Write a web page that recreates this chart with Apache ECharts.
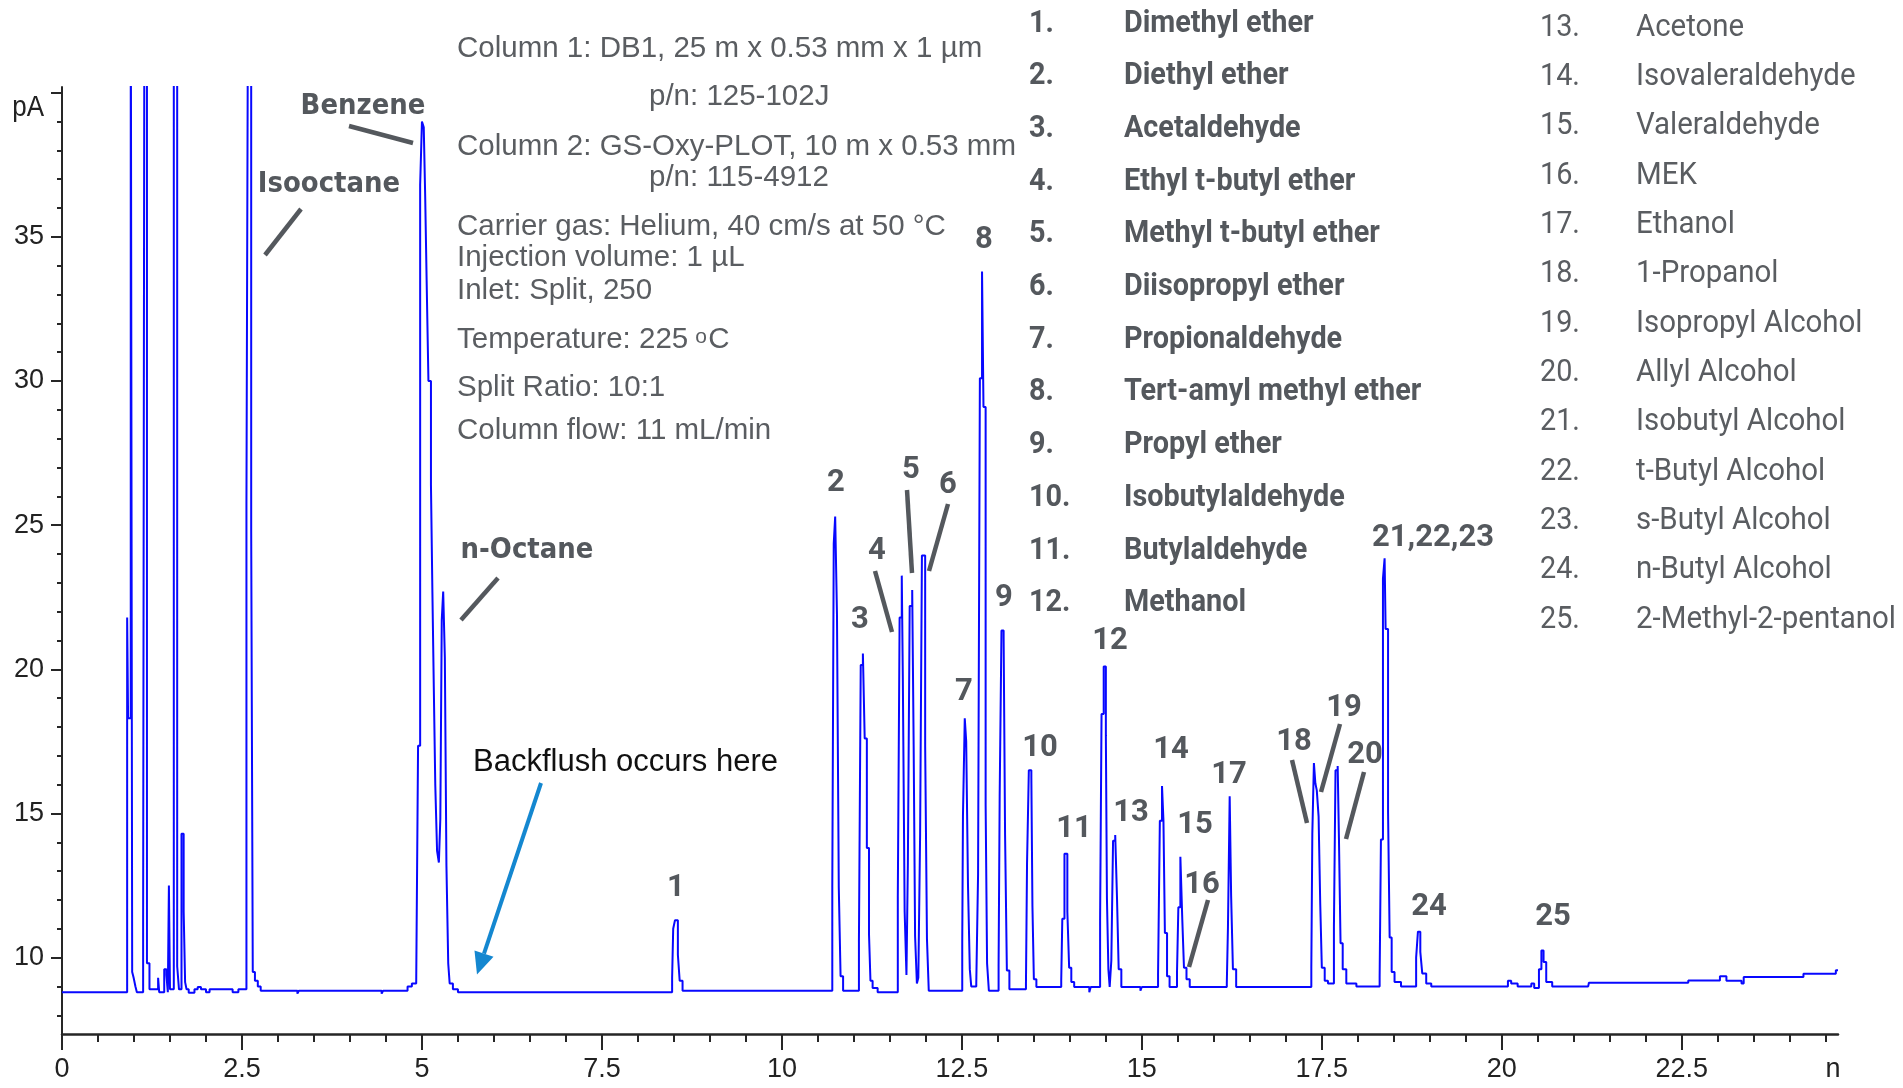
<!DOCTYPE html>
<html>
<head>
<meta charset="utf-8">
<title>Oxygenates on GS-Oxy-PLOT</title>
<script src="https://cdn.jsdelivr.net/npm/echarts@6/dist/echarts.min.js"></script>
<style>
  html, body { margin: 0; padding: 0; background: #fff; }
  #chart { width: 1903px; height: 1088px; }
</style>
</head>
<body>
<div id="chart"></div>
<script>
// ============ 数据 (min, pA) ============
// 45 = 超出量程 (被坐标轴裁掉)
const lightEndsTrace = [
  [0, 8.8], [0.905, 21.8], [0.918, 18.3], [0.955, 45], [0.975, 9.5], [0.995, 9.3], [1.02, 9.0], [1.04, 8.8],
  [1.127, 11.5], [1.145, 45], [1.18, 9.8], [1.215, 8.9], [1.335, 9.3], [1.35, 8.8], [1.42, 9.6], [1.45, 9.4],
  [1.47, 8.8], [1.485, 12.5], [1.5, 8.9], [1.553, 45], [1.6, 9.7], [1.625, 8.9], [1.66, 14.3], [1.69, 11.6],
  [1.71, 9.15], [1.73, 8.9], [1.76, 8.78], [1.84, 8.9], [1.885, 8.98], [1.93, 8.9], [2.0, 8.8], [2.05, 8.9],
  [2.37, 8.8], [2.45, 8.9], [2.562, 25.8], [2.585, 45], [2.628, 24.8], [2.65, 9.5], [2.68, 9.2], [2.72, 9.0],
  [2.76, 8.85], [3.27, 8.75], [3.29, 8.85], [4.44, 8.75], [4.46, 8.85]
]
const benzeneTrace = [
  [4.8, 9.0], [4.86, 9.1], [4.92, 9.05], [4.946, 17.35], [4.975, 36.8], [5.0, 39.0], [5.025, 38.8],
  [5.045, 36.4], [5.065, 33.5], [5.09, 30.0], [5.125, 26.4], [5.145, 22.7], [5.165, 19.3], [5.185, 16.0],
  [5.21, 13.7], [5.235, 13.3], [5.255, 14.8], [5.275, 21.7], [5.295, 22.7], [5.318, 20.4], [5.34, 13.2],
  [5.365, 9.8], [5.385, 9.1], [5.43, 8.9], [5.5, 8.8]
]
const dimethylEtherTrace = [
  [8.475, 9.3], [8.49, 11.0], [8.515, 11.3], [8.555, 10.1], [8.58, 9.2], [8.62, 8.85]
]
const ethersTrace = [
  [10.7, 12.45], [10.72, 24.35], [10.74, 25.3], [10.765, 21.9], [10.79, 12.45], [10.815, 9.35], [10.85, 8.85],
  [11.07, 10.55], [11.095, 20.15], [11.125, 20.55], [11.15, 17.6], [11.18, 13.8], [11.21, 10.8], [11.23, 9.2],
  [11.26, 8.95], [11.33, 8.8], [11.61, 12.1], [11.635, 21.8], [11.665, 23.25], [11.68, 19.65], [11.705, 11.6],
  [11.73, 9.4], [11.75, 13.3], [11.775, 22.2], [11.81, 22.75], [11.83, 17.4], [11.85, 10.75], [11.875, 9.1],
  [11.895, 9.3], [11.92, 14.3], [11.945, 23.95], [11.99, 17.35], [12.015, 10.65], [12.04, 8.85],
  [12.505, 10.55], [12.515, 14.9], [12.54, 18.3], [12.56, 17.5], [12.585, 12.5], [12.61, 9.6], [12.63, 9.0],
  [12.7, 9.1], [12.725, 12.9], [12.75, 30.1], [12.78, 33.8], [12.8, 29.1], [12.83, 15.3], [12.85, 9.8],
  [12.875, 8.85], [13.01, 9.7], [13.025, 15.6], [13.05, 21.35], [13.08, 21.1], [13.1, 14.25], [13.125, 9.55],
  [13.16, 8.9]
]
const carbonylsTrace = [
  [13.39, 9.1], [13.405, 13.25], [13.43, 16.5], [13.465, 16.25], [13.48, 11.8], [13.5, 9.25], [13.535, 8.98],
  [13.88, 9.2], [13.895, 11.35], [13.925, 13.6], [13.965, 11.6], [13.99, 9.65], [14.02, 9.15], [14.06, 8.98],
  [14.27, 8.8], [14.29, 8.98], [14.42, 11.3], [14.44, 18.45], [14.47, 20.1], [14.5, 17.7], [14.515, 12.05],
  [14.535, 9.6], [14.553, 8.98], [14.576, 9.9], [14.6, 14.05], [14.63, 14.25], [14.655, 12.05], [14.678, 9.6],
  [14.715, 8.98], [14.98, 8.85], [15.0, 8.98], [15.225, 9.4], [15.25, 14.75], [15.28, 15.95], [15.3, 14.75],
  [15.32, 10.85], [15.35, 9.35], [15.385, 8.98], [15.488, 9.45], [15.507, 11.75], [15.535, 13.5],
  [15.562, 11.3], [15.585, 9.65], [15.62, 9.25], [15.665, 8.98], [16.18, 9.1], [16.196, 11.05],
  [16.22, 15.6], [16.24, 12.15], [16.265, 9.6], [16.31, 8.98]
]
const alcoholsTrace = [
  [17.354, 9.65], [17.368, 14.3], [17.39, 16.75], [17.41, 16.05], [17.43, 15.8], [17.455, 14.9],
  [17.478, 11.85], [17.5, 9.65], [17.54, 9.2], [17.585, 9.1], [17.668, 11.05], [17.69, 16.5], [17.72, 16.65],
  [17.738, 14.1], [17.76, 10.5], [17.79, 9.6], [17.84, 9.1], [17.98, 9.0], [18.303, 9.35], [18.321, 14.1],
  [18.349, 23.15], [18.372, 23.85], [18.386, 21.4], [18.42, 15.05], [18.442, 10.7], [18.47, 9.5],
  [18.51, 9.15], [18.6, 9.0], [18.81, 10.0], [18.835, 10.9], [18.868, 10.2], [18.895, 9.45], [18.95, 9.1],
  [19.02, 9.0], [20.085, 9.2], [20.13, 9.1], [20.22, 9.0], [20.41, 9.1], [20.45, 8.95], [20.516, 9.6],
  [20.55, 10.25], [20.58, 9.85], [20.617, 9.15], [20.7, 9.0]
]
const tailTrace = [
  [21.2, 8.98], [21.21, 9.13], [22.59, 9.21], [23.03, 9.35], [23.12, 9.2], [23.33, 9.1], [23.36, 9.33],
  [24.19, 9.44], [24.64, 9.56], [24.67, 9.56]
]

// ============ 坐标轴刻度 ============
const xMajorTicks = [0, 2.5, 5, 7.5, 10, 12.5, 15, 17.5, 20, 22.5]
const xMinorTicks = [0, 0.5, 1, 1.5, 2, 2.5, 3, 3.5, 4, 4.5, 5, 5.5, 6, 6.5, 7, 7.5, 8, 8.5, 9, 9.5, 10, 10.5,
  11, 11.5, 12, 12.5, 13, 13.5, 14, 14.5, 15, 15.5, 16, 16.5, 17, 17.5, 18, 18.5, 19, 19.5, 20, 20.5, 21,
  21.5, 22, 22.5, 23, 23.5, 24, 24.5]
const xLabelValues = [0, 2.5, 5, 7.5, 10, 12.5, 15, 17.5, 20, 22.5, 24.6]
const yMajorTicks = [10, 15, 20, 25, 30, 35, 40]
const yMinorTicks = [8, 9, 10, 11, 12, 13, 14, 15, 16, 17, 18, 19, 20, 21, 22, 23, 24, 25, 26, 27, 28, 29, 30,
  31, 32, 33, 34, 35, 36, 37, 38, 39, 40]
const yLabelValues = [10, 15, 20, 25, 30, 35]

// ============ 文字 ============
const methodLines = [
  'Column 1: DB1, 25 m x 0.53 mm x 1 µm',
  'p/n: 125-102J',
  'Column 2: GS-Oxy-PLOT, 10 m x 0.53 mm',
  'p/n: 115-4912',
  'Carrier gas: Helium, 40 cm/s at 50 °C',
  'Injection volume: 1 µL',
  'Inlet: Split, 250',
  'Temperature: 225',
  'Split Ratio: 10:1',
  'Column flow: 11 mL/min'
]
const compoundNames = [
  'Dimethyl ether', 'Diethyl ether', 'Acetaldehyde', 'Ethyl t-butyl ether', 'Methyl t-butyl ether',
  'Diisopropyl ether', 'Propionaldehyde', 'Tert-amyl methyl ether', 'Propyl ether', 'Isobutylaldehyde',
  'Butylaldehyde', 'Methanol', 'Acetone', 'Isovaleraldehyde', 'Valeraldehyde', 'MEK', 'Ethanol',
  '1-Propanol', 'Isopropyl Alcohol', 'Allyl Alcohol', 'Isobutyl Alcohol', 't-Butyl Alcohol',
  's-Butyl Alcohol', 'n-Butyl Alcohol', '2-Methyl-2-pentanol'
]
const peakLabels = ['1', '2', '3', '4', '5', '6', '7', '8', '9', '10', '11', '12', '13', '14', '15', '16', '17',
  '18', '19', '20', '21,22,23', '24', '25']
const solventLabels = ['Benzene', 'Isooctane', 'n-Octane']

// ============ 样式 ============
const COLORS = {
  trace: '#0808ff',
  axis: '#262626',
  annot: '#54585d',
  method: '#5a5d61',
  arrow: '#1487d0'
}
const NARROW = "'Liberation Sans Narrow', 'Arial Narrow', sans-serif"
const METHOD_FONT = "'Liberation Sans', Arial, sans-serif"
const METHOD_SIZE = 29.5

// 注释版面 (像素)
const methodLayout = [
  [457, 49], [649, 97], [457, 147], [649, 178], [457, 227], [457, 258], [457, 291], [457, 340], [457, 388], [457, 431]
]
const peakLabelLayout = [
  [676, 888], [836, 483], [860, 620], [877, 551], [911, 470], [948, 485], [964, 692], [984, 240], [1004, 598],
  [1040, 748], [1074, 829], [1110, 641], [1131, 813], [1171, 750], [1195, 825], [1202, 885], [1229, 775],
  [1294, 742], [1344, 708], [1365, 755], [1433, 538], [1429, 907], [1553, 917]
]
const solventLayout = [[363, 106], [329, 184], [527, 550]]
const leaderLines = [
  [349, 126, 413, 143], [301, 209, 265, 255], [498, 578, 461, 620],
  [875, 571, 892, 632], [907, 490, 912, 573], [948, 504, 929, 571],
  [1208, 900, 1189, 967], [1292, 760, 1307, 823], [1340, 724, 1321, 792], [1364, 772, 1346, 839]
]

function textWidth(text, font) {
  const ctx = document.createElement('canvas').getContext('2d')
  ctx.font = font
  return ctx.measureText(text).width
}

function buildGraphic() {
  const g = []
  methodLines.forEach((line, i) => {
    g.push({
      type: 'text', x: methodLayout[i][0], y: methodLayout[i][1],
      style: { text: line, fill: COLORS.method, fontSize: METHOD_SIZE, fontFamily: METHOD_FONT,
        textAlign: 'left', textVerticalAlign: 'middle' }
    })
  })
  // 225 °C 的上标 o
  const tempEnd = methodLayout[7][0] + textWidth(methodLines[7], METHOD_SIZE + 'px ' + METHOD_FONT)
  g.push({ type: 'text', x: tempEnd + 7, y: 337,
    style: { text: 'o', fill: COLORS.method, fontSize: 21, fontFamily: METHOD_FONT,
      textAlign: 'left', textVerticalAlign: 'middle' } })
  g.push({ type: 'text', x: tempEnd + 20, y: methodLayout[7][1],
    style: { text: 'C', fill: COLORS.method, fontSize: METHOD_SIZE, fontFamily: METHOD_FONT,
      textAlign: 'left', textVerticalAlign: 'middle' } })

  compoundNames.forEach((name, i) => {
    const left = i < 12
    const row = left ? i : i - 12
    const y = left ? 23.5 + row * 52.7 : 27.5 + row * 49.35
    const numX = left ? 1029 : 1540
    const nameX = left ? 1124 : 1636
    const base = {
      fill: left ? COLORS.annot : COLORS.method, fontSize: 32, fontWeight: left ? 'bold' : 'normal',
      fontFamily: 'Roboto, sans-serif', textAlign: 'left', textVerticalAlign: 'middle'
    }
    g.push({ type: 'text', x: numX, y, scaleX: 0.9, style: Object.assign({ text: (i + 1) + '.' }, base) })
    g.push({ type: 'text', x: nameX, y, scaleX: left ? 0.9 : 0.92, style: Object.assign({ text: name }, base) })
  })

  peakLabels.forEach((lab, i) => {
    g.push({
      type: 'text', x: peakLabelLayout[i][0], y: peakLabelLayout[i][1],
      style: { text: lab, fill: COLORS.annot, fontSize: 31, fontWeight: 'bold', fontFamily: 'Roboto, sans-serif',
        textAlign: 'center', textVerticalAlign: 'middle' }
    })
  })
  solventLabels.forEach((lab, i) => {
    g.push({
      type: 'text', x: solventLayout[i][0], y: solventLayout[i][1], scaleY: 1.12,
      style: { text: lab, fill: COLORS.annot, fontSize: 26, fontWeight: 'bold',
        fontFamily: "'DejaVu Sans', Verdana, sans-serif", textAlign: 'center', textVerticalAlign: 'middle' }
    })
  })
  leaderLines.forEach(l => {
    g.push({ type: 'line', shape: { x1: l[0], y1: l[1], x2: l[2], y2: l[3] },
      style: { stroke: COLORS.annot, lineWidth: 4.5 } })
  })

  // Backflush
  g.push({ type: 'text', x: 473, y: 762,
    style: { text: 'Backflush occurs here', fill: '#111', fontSize: 31,
      fontFamily: METHOD_FONT, textAlign: 'left', textVerticalAlign: 'middle' } })
  g.push({ type: 'line', shape: { x1: 541, y1: 783, x2: 484, y2: 953.6 },
    style: { stroke: COLORS.arrow, lineWidth: 4 } })
  g.push({ type: 'polygon', shape: { points: [[477, 974.5], [493.5, 956.8], [474.5, 950.5]] },
    style: { fill: COLORS.arrow } })

  // pA
  g.push({ type: 'text', x: 44, y: 108, scaleY: 1.15,
    style: { text: 'pA', fill: '#222', fontSize: 26, fontFamily: NARROW, textAlign: 'right', textVerticalAlign: 'middle' } })
  return g
}

const chart = echarts.init(document.getElementById('chart'), null, { renderer: 'canvas' })

const axisLineStyle = { color: COLORS.axis, width: 2 }
const labelStyle = { color: '#222', fontSize: 27, fontFamily: NARROW }

const option = {
  backgroundColor: '#fff',
  animation: false,
  grid: { left: 62, right: 65, top: 87, bottom: 54, containLabel: false, outerBoundsMode: 'none' },
  xAxis: [
    {
      type: 'value', min: 0, max: 24.67, position: 'bottom',
      axisLine: { show: true, onZero: false, lineStyle: { color: COLORS.axis, width: 2.5 } },
      axisTick: { show: true, length: 16, customValues: xMajorTicks, lineStyle: axisLineStyle },
      axisLabel: Object.assign({ customValues: xLabelValues, margin: 22,
        formatter: v => (v > 24 ? 'n' : String(v)) }, labelStyle),
      splitLine: { show: false }
    },
    {
      type: 'value', min: 0, max: 24.67, position: 'bottom',
      axisLine: { show: false, onZero: false },
      axisTick: { show: true, length: 8, customValues: xMinorTicks, lineStyle: axisLineStyle },
      axisLabel: { show: false },
      splitLine: { show: false }
    }
  ],
  yAxis: [
    {
      type: 'value', min: 7.35, max: 40.2, position: 'left',
      axisLine: { show: true, onZero: false, lineStyle: axisLineStyle },
      axisTick: { show: true, length: 11, customValues: yMajorTicks, lineStyle: axisLineStyle },
      axisLabel: Object.assign({ customValues: yLabelValues, margin: 18 }, labelStyle),
      splitLine: { show: false }
    },
    {
      type: 'value', min: 7.35, max: 40.2, position: 'left',
      axisLine: { show: false, onZero: false },
      axisTick: { show: true, length: 5, customValues: yMinorTicks, lineStyle: axisLineStyle },
      axisLabel: { show: false },
      splitLine: { show: false }
    }
  ],
  series: [
    {
      type: 'line',
      xAxisIndex: 0,
      yAxisIndex: 0,
      step: 'end',
      symbol: 'none',
      clip: true,
      lineStyle: { color: COLORS.trace, width: 2 },
      data: [].concat(lightEndsTrace, benzeneTrace, dimethylEtherTrace, ethersTrace, carbonylsTrace,
        alcoholsTrace, tailTrace)
    }
  ],
  graphic: buildGraphic()
}

chart.setOption(option)
</script>
</body>
</html>
